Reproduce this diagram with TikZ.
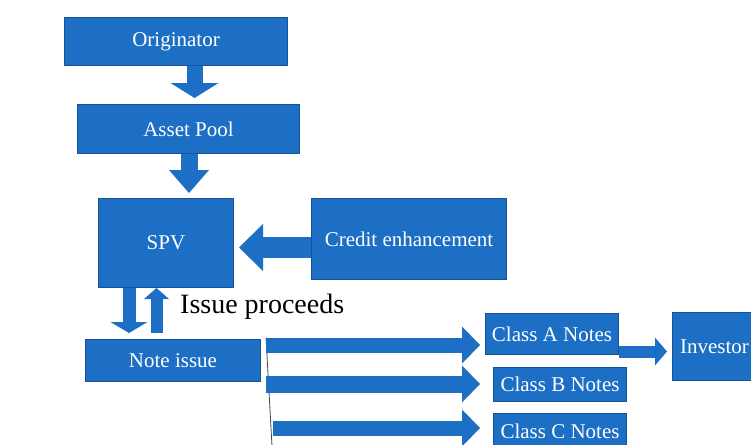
\documentclass[tikz,border=0pt]{standalone}
\usepackage{fontspec}
\setmainfont{Liberation Serif}
\usetikzlibrary{arrows.meta}
\definecolor{boxblue}{RGB}{28,111,196}
\definecolor{boxedge}{RGB}{21,82,150}
\definecolor{rule}{RGB}{60,70,90}
\begin{document}
\begin{tikzpicture}[x=1pt,y=-1pt,
  box/.style={draw=boxedge, line width=1pt, fill=boxblue, text=white,
    inner sep=0pt, anchor=north west, font=\fontsize{21}{24}\selectfont},
  flow/.style n args={3}{draw=boxblue, line width=#1,
    -{Triangle[length=#2,width=#3,line width=0pt]}},
  thinrule/.style={draw=rule, line width=0.8pt}]
\clip (0,0) rectangle (751,444);
\fill[white] (0,0) rectangle (751,444);

% boxes
\node[box, minimum width=223pt, minimum height=48pt] (orig)   at (64,17)   {Originator};
\node[box, minimum width=222pt, minimum height=49pt] (asset)  at (77,104)  {Asset Pool};
\node[box, minimum width=135pt, minimum height=89pt] (spv)    at (98,198)  {SPV};
\node[box, minimum width=195pt, minimum height=81pt] (credit) at (311,198) {Credit enhancement};
\node[box, minimum width=175pt, minimum height=42pt] (note)   at (85,339)  {Note issue};
\node[box, minimum width=133pt, minimum height=41pt] (clsA)   at (485,313) {Class A Notes};
\node[box, minimum width=133pt, minimum height=34pt] (clsB)   at (493,367) {Class B Notes};
\node[box, minimum width=133pt, minimum height=36pt] (clsC)   at (493,413) {Class C Notes};
\node[box, minimum width=84pt,  minimum height=68pt] (inv)    at (672,312) {Investor};

\node[anchor=base west, inner sep=0pt, font=\fontsize{28}{32}\selectfont]
  (proc) at (180,313) {Issue proceeds};

% thin branch line behind the note arrows
\coordinate (tail) at (272,446);
\draw[thinrule] ([xshift=5pt,yshift=23pt]note.east) -- (tail);

% block arrows
\draw[flow={16pt}{15pt}{48pt}] ([xshift=18.5pt]orig.south) -- ([xshift=6pt,yshift=6pt]asset.north);
\draw[flow={17pt}{23pt}{40pt}] ([xshift=0.5pt]asset.south) -- ([xshift=23pt,yshift=5pt]spv.north);
\draw[flow={21pt}{24pt}{47pt}] ([yshift=-8.5pt]credit.west) -- ([xshift=5pt,yshift=-4.5pt]spv.east);
\draw[flow={13pt}{11pt}{37pt}] ([xshift=-37pt]spv.south) -- ([xshift=-44pt,yshift=6pt]note.north);
\draw[flow={12pt}{11pt}{25pt}] ([xshift=-16.5pt,yshift=6pt]note.north) -- ([xshift=-9.5pt]spv.south);
\draw[flow={15pt}{18pt}{37pt}] ([xshift=5pt,yshift=15.5pt]note.east) -- ([xshift=-5pt,yshift=-11pt]clsA.west);
\draw[flow={17pt}{18pt}{37pt}] ([xshift=5pt,yshift=-23.5pt]note.east) -- ([xshift=-13pt,yshift=0.5pt]clsB.west);
\draw[flow={15pt}{18pt}{37pt}] ([xshift=12pt,yshift=-67.5pt]note.east) -- ([xshift=-13pt,yshift=3.5pt]clsC.west);
\draw[flow={12pt}{12pt}{28pt}] ([yshift=-17.5pt]clsA.east) -- ([xshift=-5pt,yshift=-5pt]inv.west);
\end{tikzpicture}
\end{document}
